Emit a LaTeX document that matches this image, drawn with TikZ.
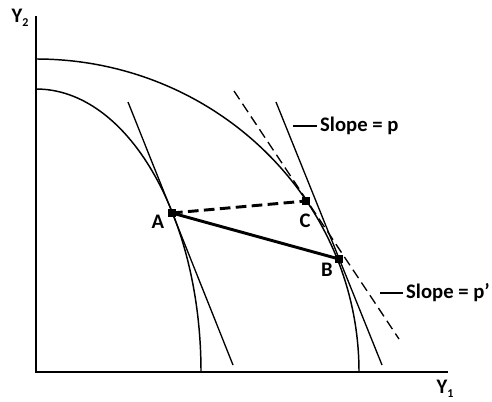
\documentclass[tikz,border=0pt]{standalone}
\usepackage{fontspec}
\setmainfont{Carlito}
\usetikzlibrary{calc}
\newcommand{\lowsub}[1]{\raisebox{-0.35ex}{\fontsize{9}{10}\selectfont #1}}

\begin{document}
\begin{tikzpicture}[
    x=0.75pt, y=0.75pt,
    every node/.style={font=\fontsize{15.5}{18}\selectfont\bfseries},
    axis/.style={line width=1.1pt, line cap=rect},
    frontier/.style={line width=1.1pt},
    tangent/.style={line width=1.0pt},
    dtangent/.style={line width=1.0pt, dash pattern=on 7.5pt off 4pt},
    trade/.style={line width=2.2pt},
    dtrade/.style={line width=2.2pt, dash pattern=on 8pt off 4pt},
    dot/.style={rectangle, fill=black, inner sep=0pt, minimum size=5.5pt},
    lab/.style={inner sep=0pt},
    slope/.style={anchor=west, inner sep=2.2pt},
]
\useasboundingbox (-36,-29) rectangle (456,372);

% ================================================================ axes
\coordinate (O) at (0,0);
\coordinate (ytop) at (0,355);
\coordinate (xend) at (411,0);
\draw[axis] (ytop) -- (O) -- (xend);
\node[lab] (ytwo) at (-16,354) {Y\lowsub{2}};
\node[lab] (yone) at (409,-17) {Y\lowsub{1}};

% ================================================================ frontiers
\draw[frontier] (0,313) arc[start angle=90, end angle=0, x radius=323, y radius=313];
\draw[frontier] (0,283) arc[start angle=90, end angle=0, x radius=165, y radius=283];

% ================================================================ tangents
\coordinate (ta1) at (92,270);
\coordinate (ta2) at (197,7);
\coordinate (tb1) at (240,270);
\coordinate (tb2) at (346,7);
\coordinate (tc1) at (198,281);
\coordinate (tc2) at (363,33);
\draw[tangent] (ta1) -- (ta2);
\draw[tangent] (tb1) -- (tb2);
\draw[dtangent] (tc1) -- (tc2);

% ================================================================ points
\node[dot] (A) at (136,159) {};
\node[dot] (C) at (270,171) {};
\node[dot] (B) at (303,113) {};
\draw[trade] (A.center) -- (B.center);
\draw[dtrade] (A.center) -- (C.center);
\node[lab] (labA) at (122,150) {A};
\node[lab] (labC) at (269,151) {C};
\node[lab] (labB) at (291,102) {B};

% ================================================================ slope labels
\node[slope] (slopep) at (281,246) {Slope = p};
\coordinate (lp) at (257,246);
\draw[tangent] (lp) -- (slopep.west);
\node[slope] (slopeq) at (367,79) {Slope = p'};
\coordinate (lq) at (344,79);
\draw[tangent] (lq) -- (slopeq.west);

\end{tikzpicture}
\end{document}
